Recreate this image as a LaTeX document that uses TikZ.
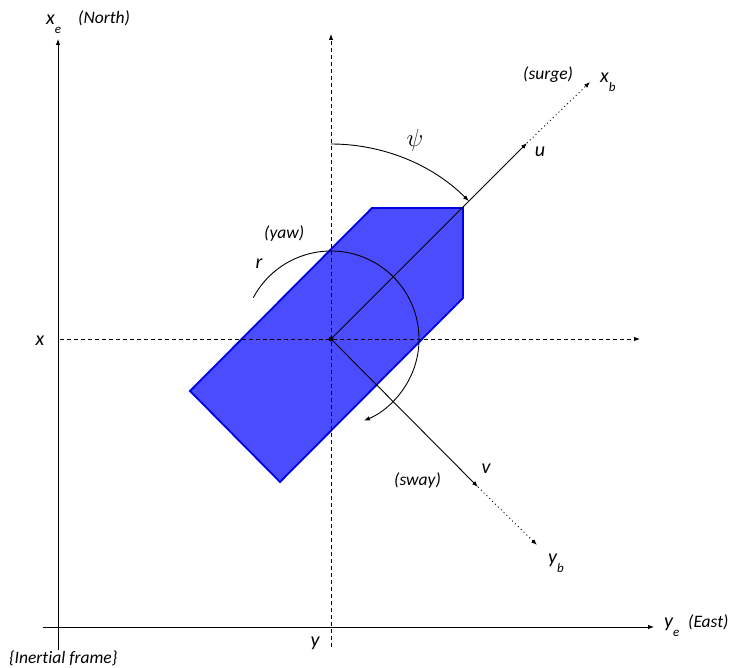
\documentclass[tikz,border=0pt]{standalone}
\usepackage{fontspec}
\setmainfont{Carlito}[Ligatures=NoCommon]
\usetikzlibrary{arrows.meta}
\definecolor{hullfill}{RGB}{76,76,255}
\definecolor{hulledge}{RGB}{0,0,230}
\newcommand{\axname}[2]{#1\raisebox{-0.45em}{\fontsize{13}{15}\selectfont #2}}

\begin{document}
\begin{tikzpicture}[
  x=1pt, y=-1pt,
  axis/.style={line width=0.9pt, -{Latex[length=6pt,width=4.5pt]}},
  ref/.style={axis, dash pattern=on 4pt off 3pt},
  ext/.style={axis, dash pattern=on 1pt off 3pt},
  turn/.style={line width=0.9pt, -{Latex[length=6pt,width=4.5pt]}},
  hull/.style={draw=hulledge, fill=hullfill, line width=1.8pt, line join=miter},
  sym/.style={font=\fontsize{20}{23}\selectfont\itshape, inner sep=0pt},
  note/.style={font=\fontsize{17.5}{20}\selectfont\itshape, inner sep=0pt},
]
\useasboundingbox (0,0) rectangle (730,668);

% ======================= inertial frame (North / East) ====================
\coordinate (e0) at (58,650);
\coordinate (eN) at (58,39);
\coordinate (e1) at (43,627);
\coordinate (eE) at (654,627);
\draw[axis] (e0) -- (eN);
\draw[axis] (e1) -- (eE);

\node[sym, anchor=base west] (xe) at (46,25) {\axname{x}{e}};
\node[note, anchor=base west] (north) at (78,24) {(North)};
\node[sym, anchor=base west] (ye) at (664,627) {\axname{y}{e}};
\node[note, anchor=base west] (east) at (688,627) {(East)};
\node[note, anchor=base west] (frame) at (9,663) {\{Inertial frame\}};

% ======================= the vessel =======================================
\draw[hull] (372,208) -- (463,208) -- (463,298) -- (280,482)
  -- (190,391) -- cycle;

% position lines through the centre
\coordinate (O) at (331,339);
\coordinate (n0) at (331,647);
\coordinate (n1) at (331,34);
\coordinate (w0) at (60,339);
\coordinate (w1) at (640,339);
\draw[ref] (n0) -- (n1);
\draw[ref] (w0) -- (w1);

\node[sym, anchor=base] (px) at (40,345) {x};
\node[sym, anchor=base] (py) at (315,646) {y};

% ======================= body frame =======================================
\coordinate (u)  at (527,143);
\coordinate (xb) at (590,82);
\coordinate (v)  at (478,487);
\coordinate (yb) at (537,545);
\draw[axis] (O) -- (u);
\draw[ext]  (u) -- (xb);
\draw[axis] (O) -- (v);
\draw[ext]  (v) -- (yb);

\node[sym, anchor=base] (ul) at (540,157) {u};
\node[sym, anchor=base west] (xbl) at (600,83) {\axname{x}{b}};
\node[note, anchor=base west] (surge) at (523,80) {(surge)};
\node[sym, anchor=base] (vl) at (486,473) {v};
\node[note, anchor=base west] (sway) at (394,485) {(sway)};
\node[sym, anchor=base west] (ybl) at (548,563) {\axname{y}{b}};

% heading angle and yaw rate
\coordinate (psi0) at (331,144);
\draw[turn] (psi0) arc[start angle=-90, end angle=-45, radius=195];
\node[inner sep=0pt, font=\fontsize{24}{27}\selectfont] (psi) at (415,140) {$\psi$};

\coordinate (r0) at (253.3,297.7);
\draw[turn] (r0) arc[start angle=-152, end angle=68, radius=88];
\node[note, anchor=base west] (yaw) at (264,239) {(yaw)};
\node[sym, anchor=base] (rl) at (259,268) {r};

\fill (O) circle (2.5pt);

\end{tikzpicture}
\end{document}
